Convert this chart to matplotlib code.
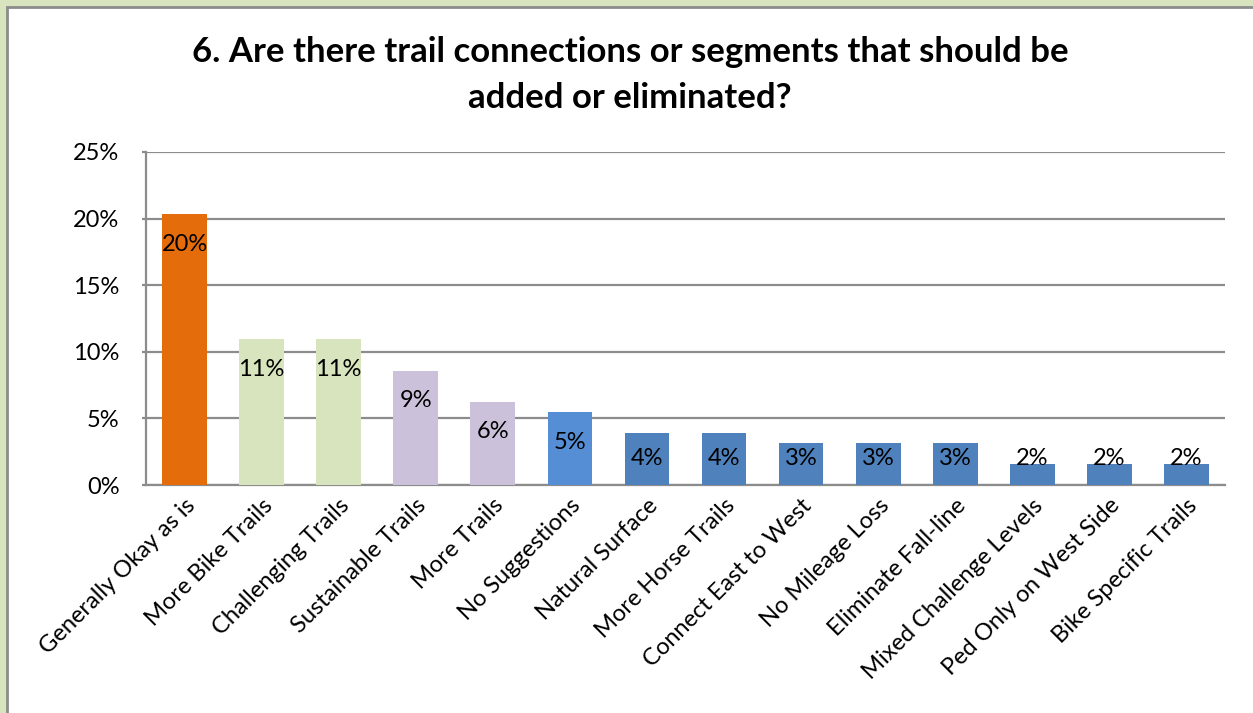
import matplotlib
matplotlib.use('Agg')
import matplotlib.pyplot as plt
from matplotlib.patches import Rectangle
from matplotlib.ticker import FuncFormatter

# share of responses per suggestion (percent)
categories = ['Generally Okay as is', 'More Bike Trails', 'Challenging Trails',
              'Sustainable Trails', 'More Trails', 'No Suggestions',
              'Natural Surface', 'More Horse Trails', 'Connect East to West',
              'No Mileage Loss', 'Eliminate Fall-line', 'Mixed Challenge Levels',
              'Ped Only on West Side', 'Bike Specific Trails']
values = [20.31, 10.94, 10.94, 8.59, 6.25, 5.47, 3.91, 3.91,
          3.13, 3.13, 3.13, 1.56, 1.56, 1.56]
colors = ['#E46C0A', '#D7E4BD', '#D7E4BD', '#CCC1DA', '#CCC1DA', '#558ED5',
          '#4F81BD', '#4F81BD', '#4F81BD', '#4F81BD', '#4F81BD', '#4F81BD',
          '#4F81BD', '#4F81BD']
yticks = [0, 5, 10, 15, 20, 25]

plt.rcParams['font.family'] = ['Lato', 'DejaVu Sans']

fig = plt.figure(figsize=(12.53, 7.13), dpi=100)
fig.patch.set_facecolor('#D7E4BD')

# white chart area with a gray border
panel = Rectangle((7/1253, -0.05), 1.05, 1 - 7/713 + 0.05, transform=fig.transFigure,
                  facecolor='white', edgecolor='#8C8C8C', linewidth=2, zorder=-10)
fig.patches.append(panel)

ax = fig.add_axes([146/1253, 1 - 485/713, (1225 - 146)/1253, (485 - 152)/713])
ax.set_facecolor('none')
ax.set_zorder(1)

x = range(len(categories))
ax.bar(x, values, width=0.58, color=colors, zorder=3)

# labels sit just inside the bar top, but never below the baseline row
for i, v in enumerate(values):
    ly = max(v - 2.25, 2.0)
    ax.text(i, ly, f'{v:.0f}%', ha='center', va='center', fontsize=17, color='black', zorder=4)

ax.set_ylim(0, 25)
ax.set_xlim(-0.5, len(categories) - 0.5)
ax.set_yticks(yticks)
ax.yaxis.set_major_formatter(FuncFormatter(lambda v, p: f'{v:.0f}%'))
ax.grid(axis='y', color='#8C8C8C', linewidth=1.6, zorder=1)
ax.set_axisbelow(True)

for s in ['top', 'right']:
    ax.spines[s].set_visible(False)
for s in ['left', 'bottom']:
    ax.spines[s].set_color('#8C8C8C')
    ax.spines[s].set_linewidth(1.6)

ax.tick_params(axis='y', labelsize=17, length=3, width=1.6, color='#8C8C8C', pad=16)
ax.tick_params(axis='x', length=0, pad=7)
ax.set_xticks(list(x))
ax.set_xticklabels(categories, rotation=45, ha='right', rotation_mode='anchor', fontsize=17)

fig.text(0.503, 1 - 75/713, '6. Are there trail connections or segments that should be\nadded or eliminated?',
         ha='center', va='center', fontsize=25, fontweight='bold', linespacing=1.55)

fig.savefig('out.png', dpi=100, facecolor=fig.get_facecolor())
